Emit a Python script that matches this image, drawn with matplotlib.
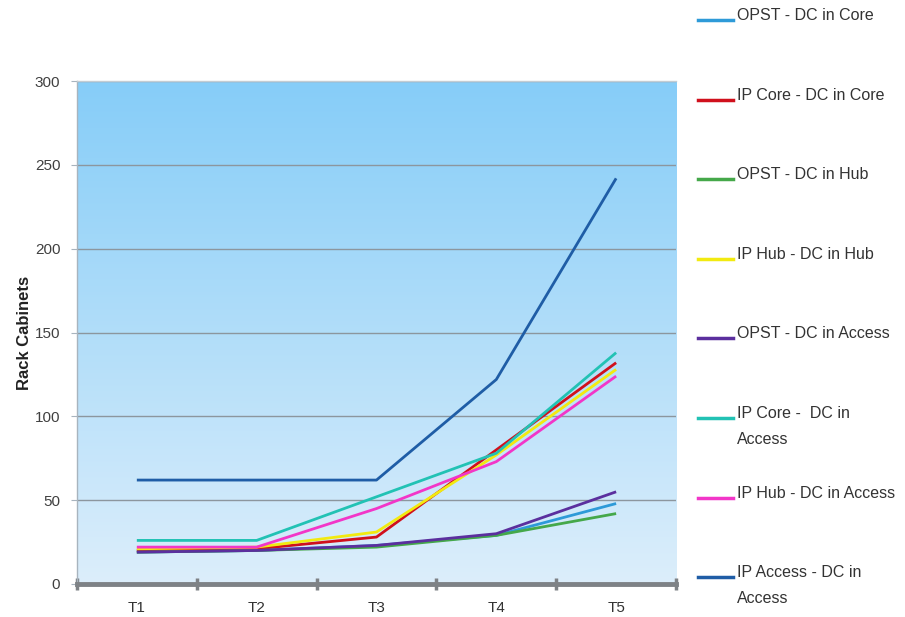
import numpy as np
import matplotlib
matplotlib.use("Agg")
import matplotlib.pyplot as plt
from matplotlib.colors import LinearSegmentedColormap
from matplotlib.lines import Line2D

plt.rcParams["font.family"] = ["Liberation Sans", "DejaVu Sans"]

periods = ["T1", "T2", "T3", "T4", "T5"]

series_names = [
    "OPST - DC in Core",
    "IP Core - DC in Core",
    "OPST - DC in Hub",
    "IP Hub - DC in Hub",
    "OPST - DC in Access",
    "IP Core -  DC in\nAccess",
    "IP Hub - DC in Access",
    "IP Access - DC in\nAccess",
]

opst_core = [19, 20, 23, 29, 48]
ip_core_core = [20, 21, 28, 80, 132]
opst_hub = [19, 20, 22, 29, 42]
ip_hub_hub = [21, 22, 31, 77, 128]
opst_access = [19, 20, 23, 30, 55]
ip_core_access = [26, 26, 52, 78, 138]
ip_hub_access = [22, 22, 45, 73, 124]
ip_access_access = [62, 62, 62, 122, 242]

series_values = [opst_core, ip_core_core, opst_hub, ip_hub_hub,
                 opst_access, ip_core_access, ip_hub_access, ip_access_access]

colors = ["#2E9AD8", "#D0101C", "#45A84A", "#F2EA10",
          "#5B2F9E", "#22C2B4", "#F236C8", "#1F5DA6"]

fig = plt.figure(figsize=(9.05, 6.17), dpi=100)
ax = fig.add_axes([0.085, 0.0535, 0.662, 0.815])

# sky-blue gradient behind the plot
grad = LinearSegmentedColormap.from_list("sky", ["#DCEEFB", "#86CDF8"])
ax.imshow(np.linspace(0, 1, 256).reshape(-1, 1), cmap=grad, origin="lower",
          extent=[0, 1, 0, 1], transform=ax.transAxes, aspect="auto", zorder=0)

x = np.arange(len(periods))
for vals, col in zip(series_values, colors):
    ax.plot(x, vals, color=col, lw=2.0, solid_capstyle="butt", zorder=3)

ax.set_xlim(-0.5, 4.5)
ax.set_ylim(0, 300)
ax.set_yticks(np.arange(0, 301, 50))
ax.set_xticks(x)
ax.set_xticklabels(periods)
ax.set_xticks(np.arange(-0.5, 4.6, 1.0), minor=True)

ax.grid(axis="y", color="#8C969E", lw=1.0, zorder=1)
ax.set_axisbelow(True)

ax.spines["right"].set_visible(False)
ax.spines["top"].set_color("#C4CCD2")
ax.spines["top"].set_linewidth(1.0)
ax.spines["left"].set_color("#A8B4BE")
ax.spines["left"].set_linewidth(1.0)
ax.spines["bottom"].set_color("#7E8286")
ax.spines["bottom"].set_linewidth(3.5)
ax.spines["bottom"].set_zorder(4)

ax.tick_params(axis="x", which="major", length=0, pad=12,
               labelsize=11, labelcolor="#333333")
ax.tick_params(axis="x", which="minor", length=8, width=2.5,
               direction="inout", color="#7E8286")
ax.tick_params(axis="y", length=4, color="#A8B4BE", labelsize=11,
               labelcolor="#404040", pad=8)

ax.set_ylabel("Rack Cabinets", fontsize=12, fontweight="bold",
              color="#222222", labelpad=2)

# legend down the right side, handle aligned with first text line
top_y = 1 - 20 / 617
step = 79.6 / 617
for i, (name, col) in enumerate(zip(series_names, colors)):
    yy = top_y - i * step
    fig.add_artist(Line2D([698 / 905, 733 / 905], [yy, yy],
                          transform=fig.transFigure, color=col, lw=2.5))
    fig.text(737 / 905, yy + 12 / 617, name, fontsize=11.5, color="#333333",
             va="top", ha="left", linespacing=1.9,
             transform=fig.transFigure)

fig.savefig("out.png", dpi=100)
